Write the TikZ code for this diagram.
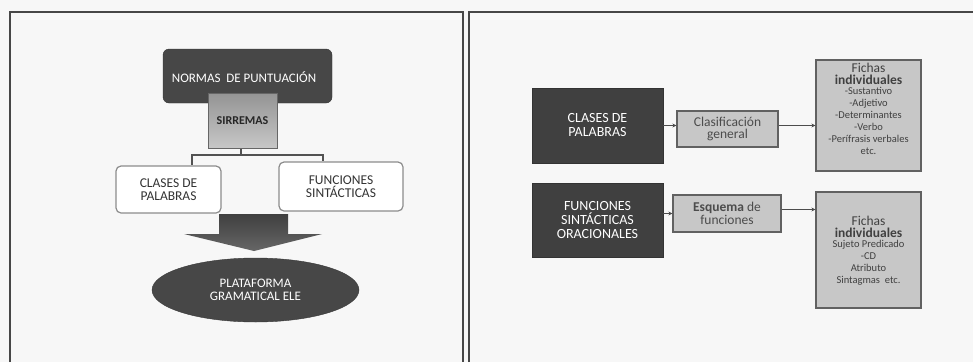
\documentclass[tikz,border=0pt]{standalone}
\usepackage{fontspec}
\setmainfont{Carlito}
\usetikzlibrary{arrows.meta,shapes.geometric}
\newcommand{\myLsz}{\fontsize{10.5}{11}\selectfont}
\newcommand{\myHsz}{\fontsize{13.5}{15}\selectfont}
\begin{document}
\begin{tikzpicture}[x=1pt,y=-1pt,
  frame/.style={line width=2pt, draw=black!72},
  darkround/.style={draw=black!80, fill=black!72, rounded corners=6pt, inner sep=0pt},
  greysq/.style={draw=black!60, line width=1pt, top color=black!42, bottom color=black!22, text=black!85, align=center, inner sep=0pt, font=\bfseries\fontsize{12}{13}\selectfont},
  whitebox/.style={draw=black!45, line width=1.2pt, fill=white, rounded corners=5pt, text=black!80, align=center, inner sep=0pt, font=\fontsize{13.5}{13.5}\selectfont},
  darkbox/.style={draw=black!80, fill=black!75, text=white, align=center, inner sep=0pt, font=\fontsize{14}{14}\selectfont},
  lightbox/.style={draw=black!62, line width=1.2pt, fill=black!22, text=black!70, align=center, inner sep=0pt, font=\fontsize{13.5}{12.5}\selectfont},
  link/.style={line width=1.8pt, draw=black!68},
  arr/.style={line width=1.5pt, draw=black!70, -{Stealth[length=4pt,width=4pt]}},
  fichtext/.style={align=center, text=black!75, inner sep=0pt}
]
\fill[black!3] (0,0) rectangle (973,362);
\useasboundingbox (0,0) rectangle (973,362);

% frames
\draw[frame] (10,362) -- (10,12) -- (463,12) -- (463,362);
\draw[frame] (469,362) -- (469,12) -- (973,12);

% ---------- left diagram ----------
\node[darkround, minimum width=169pt, minimum height=54pt] (normas) at (247.5,76) {};
\node[text=white, inner sep=0pt, font=\fontsize{13}{14}\selectfont] (normast) at (244,77) {NORMAS\ \ DE PUNTUACIÓN};
\node[greysq, minimum width=69pt, minimum height=55pt] (sir) at (242.5,120.5) {SIRREMAS};

\node[whitebox, minimum width=105pt, minimum height=47pt] (clases) at (168.5,189.5) {CLASES DE\\PALABRAS};
\node[whitebox, minimum width=124pt, minimum height=49pt] (func) at (341,186.5) {FUNCIONES\\SINTÁCTICAS};

\coordinate (j) at (241,155);
\draw[link] (sir.south -| j) -- (j);
\draw[link] (j) -| ([xshift=23.5pt]clases.north);
\draw[link] (j) -| ([xshift=-18pt]func.north);

\node[ellipse, draw=black!78, fill=black!72, text=white, minimum width=207pt, minimum height=64pt, inner sep=0pt, align=center, font=\fontsize{13}{13.5}\selectfont] (plat) at (255.5,290) {PLATAFORMA\\GRAMATICAL ELE};

\shade[top color=black!75, bottom color=black!60] (219,214) -- (288,214) -- (288,234) -- (322,234) -- (254,251) -- (184,234) -- (219,234) -- cycle;

% ---------- right diagram ----------
\node[darkbox, minimum width=131pt, minimum height=75pt] (clasesR) at (597.5,125.5) {CLASES DE\\PALABRAS};
\node[lightbox, minimum width=101pt, minimum height=36pt] (clasif) at (727.5,129) {Clasificación\\general};
\node[lightbox, minimum width=105pt, minimum height=111pt] (fich1) at (868.5,115.5) {};
\node[fichtext] (fich1t) at (868.5,109) {{\myHsz Fichas}\\{\myHsz\bfseries individuales}\\[-2pt]
 {\myLsz -Sustantivo}\\{\myLsz -Adjetivo}\\{\myLsz -Determinantes}\\{\myLsz -Verbo}\\{\myLsz -Perífrasis verbales}\\{\myLsz etc.}};

\node[darkbox, minimum width=131pt, minimum height=74pt] (funcR) at (597.5,220) {FUNCIONES\\SINTÁCTICAS\\ORACIONALES};
\node[lightbox, minimum width=108pt, minimum height=37pt] (esq) at (727,213.5) {\textbf{Esquema} de\\funciones};
\node[lightbox, minimum width=105pt, minimum height=116pt] (fich2) at (868.5,250) {};
\node[fichtext] (fich2t) at (868.5,251) {{\myHsz Fichas}\\{\myHsz\bfseries individuales}\\[-2pt]
 {\myLsz Sujeto Predicado}\\{\myLsz -CD}\\{\myLsz Atributo}\\{\myLsz Sintagmas\ \ etc.}};

\draw[arr] (clasesR.east) -- (clasesR.east -| clasif.west);
\draw[arr] (clasesR.east -| clasif.east) -- (clasesR.east -| fich1.west);
\draw[arr] (funcR.east |- esq.west) -- (esq.west);
\draw[arr] ([yshift=4pt]esq.east) -- ([yshift=4pt]esq.east -| fich2.west);
\end{tikzpicture}
\end{document}
